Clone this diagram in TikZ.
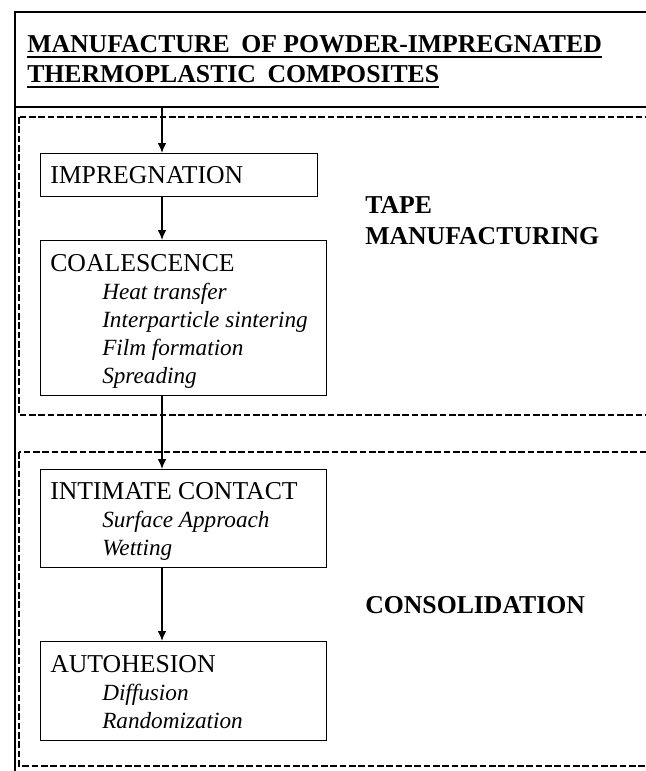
\documentclass[tikz,border=0pt]{standalone}
\usepackage{fontspec}
\setmainfont{Liberation Serif}
\usetikzlibrary{arrows.meta}
\newcommand\stagefont{\fontsize{19.3}{21}\selectfont}
\newcommand\stepitem[1]{\hspace*{39pt}{\fontsize{17.4}{21}\selectfont\itshape #1}}
\begin{document}
\begin{tikzpicture}[x=0.75pt,y=-0.75pt,
  frame/.style={line width=1.1pt},
  sepline/.style={line width=2pt},
  zone/.style={line width=1.5pt, dash pattern=on 5pt off 2pt},
  stagebox/.style={draw, line width=0.8pt, rectangle, anchor=north west,
    inner sep=0pt, minimum width=214.5pt},
  stagetext/.style={anchor=base west, inner sep=0pt, align=left, font=\stagefont},
  flow/.style={line width=1.1pt, -{Latex[length=7.5pt,width=6.5pt]}},
  heading/.style={font=\bfseries\stagefont, anchor=base west, inner sep=0pt},
  zonelabel/.style={font=\bfseries\stagefont, align=left, anchor=base west, inner sep=0pt},
  uline/.style={line width=1.4pt}]
\useasboundingbox (0,0) rectangle (646,771);
\clip (0,0) rectangle (646,771);

% outer frame and the rule under the heading
\draw[frame] (680,12) -- (15,12) -- (15,800);
\draw[sepline] (15,107) -- (680,107);

% heading with its underlines
\node[heading] (t1) at (27,52) {MANUFACTURE\hspace{0.45em}OF POWDER-IMPREGNATED};
\node[heading] (t2) at (27,82) {THERMOPLASTIC\hspace{0.45em}COMPOSITES};
\draw[uline] ([yshift=-3.6pt]t1.base west) -- ([yshift=-3.6pt]t1.base east);
\draw[uline] ([yshift=-4pt]t2.base west) -- ([yshift=-4pt]t2.base east);

% the two process zones (last line of each label sits on the given baseline)
\draw[zone] (19,117) rectangle (700,415);
\draw[zone] (19,452) rectangle (700,766);
\node[zonelabel] (tape) at (365,244) {TAPE\\[2.2pt]MANUFACTURING};
\node[zonelabel] (cons) at (365,613) {CONSOLIDATION};

% process stages: frames
\node[stagebox, minimum width=207.75pt, minimum height=32.25pt] (impreg) at (40,153) {};
\node[stagebox, minimum height=116.25pt] (coal) at (40,240) {};
\node[stagebox, minimum height=73.5pt] (contact) at (40,469) {};
\node[stagebox, minimum height=74.25pt] (auto) at (40,641) {};

% process stages: wording
\node[stagetext] (impreg-t) at (50,183) {IMPREGNATION};
\node[stagetext] (coal-t) at (50,383)
  {COALESCENCE\\
   \stepitem{Heat transfer}\\
   \stepitem{Interparticle sintering}\\
   \stepitem{Film formation}\\
   \stepitem{Spreading}};
\node[stagetext] (contact-t) at (50,555)
  {INTIMATE CONTACT\\
   \stepitem{Surface Approach}\\
   \stepitem{Wetting}};
\node[stagetext] (auto-t) at (50,728)
  {AUTOHESION\\
   \stepitem{Diffusion}\\
   \stepitem{Randomization}};

% flow between the stages
\coordinate (src) at (162,107);
\draw[flow] (src) -- (src |- impreg.north);
\draw[flow] (src |- impreg.south) -- (src |- coal.north);
\draw[flow] (src |- coal.south) -- (src |- contact.north);
\draw[flow] (src |- contact.south) -- (src |- auto.north);
\end{tikzpicture}
\end{document}
